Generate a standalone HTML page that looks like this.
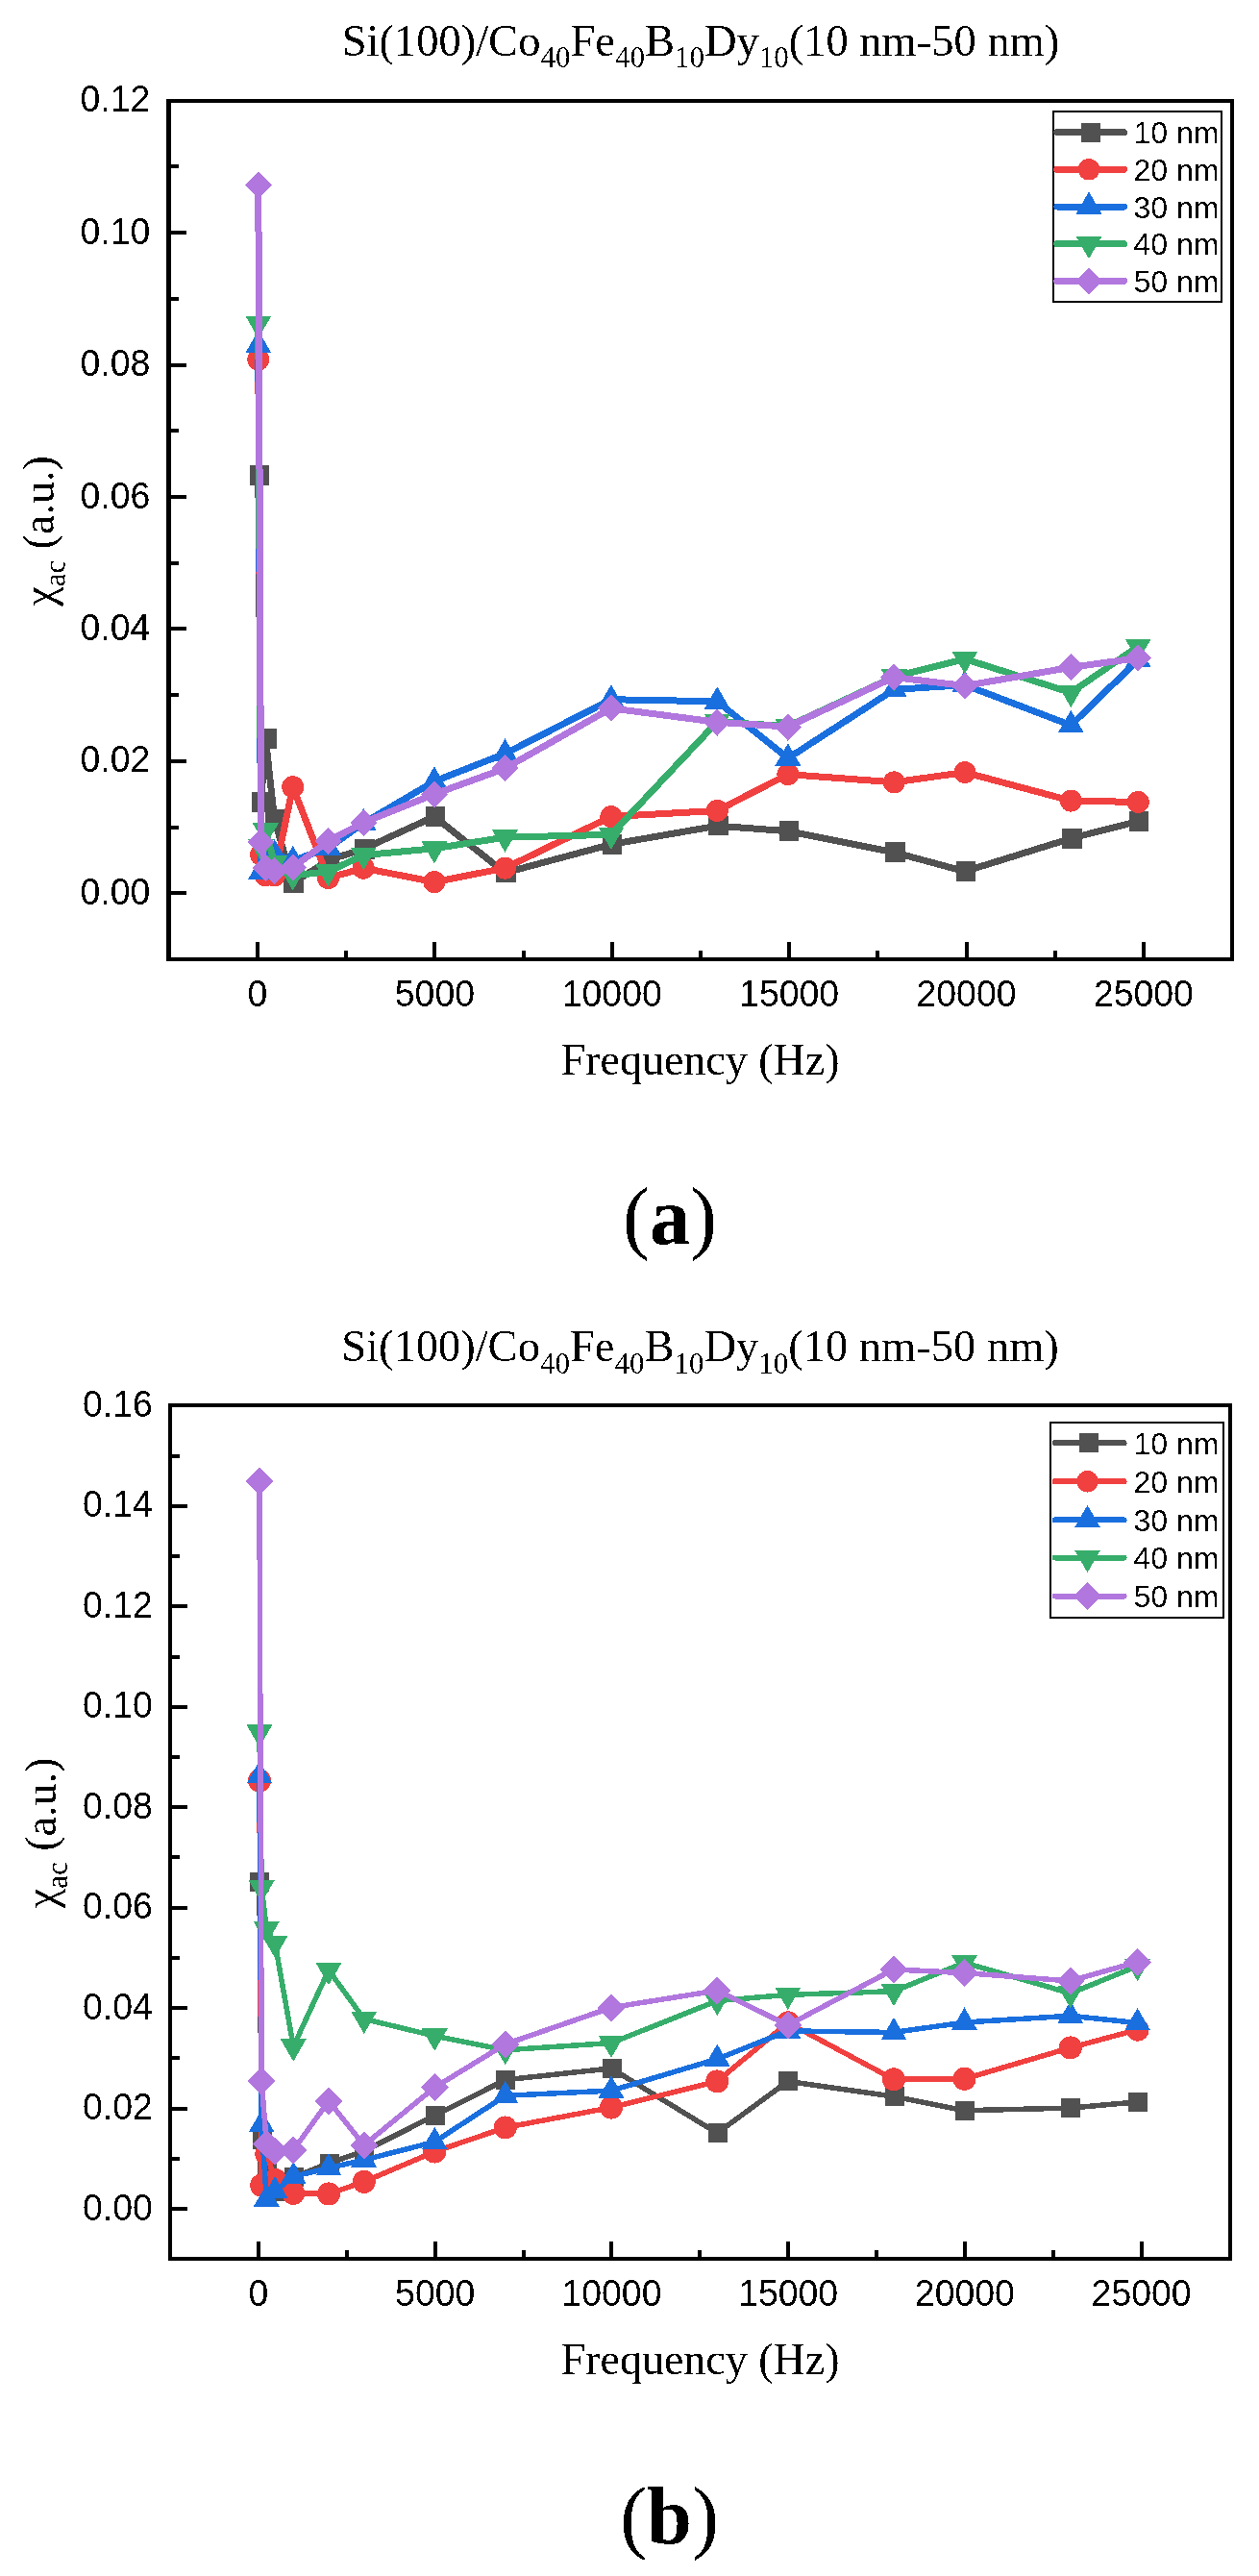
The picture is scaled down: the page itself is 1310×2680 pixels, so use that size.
<!DOCTYPE html><html><head><meta charset="utf-8"><style>html,body{margin:0;padding:0;background:#fff;}svg{display:block;will-change:transform;}</style></head><body>
<svg width="1310" height="2680" viewBox="0 0 1310 2680" shape-rendering="crispEdges">
<rect width="1310" height="2680" fill="#fff"/>
<defs><filter id="bin" x="0" y="0" width="1" height="1" color-interpolation-filters="sRGB"><feComponentTransfer><feFuncA type="discrete" tableValues="0 1"/></feComponentTransfer></filter></defs>
<g filter="url(#bin)">
<g fill="#000">
<rect x="173" y="103" width="5" height="897"/>
<rect x="173" y="103" width="1111" height="4"/>
<rect x="1280" y="103" width="4" height="897"/>
<rect x="173" y="996" width="1111" height="4"/>
<rect x="178" y="927.3" width="16" height="4"/>
<rect x="178" y="858.58" width="7.5" height="4"/>
<rect x="178" y="789.86" width="16" height="4"/>
<rect x="178" y="721.14" width="7.5" height="4"/>
<rect x="178" y="652.42" width="16" height="4"/>
<rect x="178" y="583.7" width="7.5" height="4"/>
<rect x="178" y="514.98" width="16" height="4"/>
<rect x="178" y="446.26" width="7.5" height="4"/>
<rect x="178" y="377.54" width="16" height="4"/>
<rect x="178" y="308.82" width="7.5" height="4"/>
<rect x="178" y="240.1" width="16" height="4"/>
<rect x="178" y="171.38" width="7.5" height="4"/>
<rect x="266" y="980" width="4" height="16"/>
<rect x="358.19" y="988.5" width="4" height="7.5"/>
<rect x="450.38" y="980" width="4" height="16"/>
<rect x="542.57" y="988.5" width="4" height="7.5"/>
<rect x="634.76" y="980" width="4" height="16"/>
<rect x="726.95" y="988.5" width="4" height="7.5"/>
<rect x="819.14" y="980" width="4" height="16"/>
<rect x="911.33" y="988.5" width="4" height="7.5"/>
<rect x="1003.52" y="980" width="4" height="16"/>
<rect x="1095.71" y="988.5" width="4" height="7.5"/>
<rect x="1187.9" y="980" width="4" height="16"/>
</g>
<g font-family='"Liberation Sans", sans-serif' font-size="39.4" fill="#000">
<text transform="translate(156.3,940.9) scale(0.95,1)" text-anchor="end">0.00</text>
<text transform="translate(156.3,803.46) scale(0.95,1)" text-anchor="end">0.02</text>
<text transform="translate(156.3,666.02) scale(0.95,1)" text-anchor="end">0.04</text>
<text transform="translate(156.3,528.58) scale(0.95,1)" text-anchor="end">0.06</text>
<text transform="translate(156.3,391.14) scale(0.95,1)" text-anchor="end">0.08</text>
<text transform="translate(156.3,253.7) scale(0.95,1)" text-anchor="end">0.10</text>
<text transform="translate(156.3,116.26) scale(0.95,1)" text-anchor="end">0.12</text>
<text transform="translate(268,1046.5) scale(0.95,1)" text-anchor="middle">0</text>
<text transform="translate(452.38,1046.5) scale(0.95,1)" text-anchor="middle">5000</text>
<text transform="translate(636.76,1046.5) scale(0.95,1)" text-anchor="middle">10000</text>
<text transform="translate(821.14,1046.5) scale(0.95,1)" text-anchor="middle">15000</text>
<text transform="translate(1005.52,1046.5) scale(0.95,1)" text-anchor="middle">20000</text>
<text transform="translate(1189.9,1046.5) scale(0.95,1)" text-anchor="middle">25000</text>
</g>
<polyline fill="none" stroke="#515151" stroke-width="7" stroke-linejoin="miter" stroke-miterlimit="2" points="268.82,494.3 271.58,834.47 276.36,768.5 285.56,852.33 304.7,918.99 341.5,894.94 378.3,883.26 451.9,849.58 525.5,908 635.9,878.45 746.3,859.21 819.9,864.7 930.3,886.69 1003.9,906.62 1114.3,872.26 1184.22,854.4"/>
<rect x="259.57" y="484.05" width="20.5" height="20.5" fill="#515151"/>
<rect x="262.33" y="824.22" width="20.5" height="20.5" fill="#515151"/>
<rect x="267.11" y="758.25" width="20.5" height="20.5" fill="#515151"/>
<rect x="276.31" y="842.08" width="20.5" height="20.5" fill="#515151"/>
<rect x="295.45" y="908.74" width="20.5" height="20.5" fill="#515151"/>
<rect x="332.25" y="884.69" width="20.5" height="20.5" fill="#515151"/>
<rect x="369.05" y="873.01" width="20.5" height="20.5" fill="#515151"/>
<rect x="442.65" y="839.33" width="20.5" height="20.5" fill="#515151"/>
<rect x="516.25" y="897.75" width="20.5" height="20.5" fill="#515151"/>
<rect x="626.65" y="868.2" width="20.5" height="20.5" fill="#515151"/>
<rect x="737.05" y="848.96" width="20.5" height="20.5" fill="#515151"/>
<rect x="810.65" y="854.45" width="20.5" height="20.5" fill="#515151"/>
<rect x="921.05" y="876.44" width="20.5" height="20.5" fill="#515151"/>
<rect x="994.65" y="896.37" width="20.5" height="20.5" fill="#515151"/>
<rect x="1105.05" y="862.01" width="20.5" height="20.5" fill="#515151"/>
<rect x="1174.97" y="844.15" width="20.5" height="20.5" fill="#515151"/>
<polyline fill="none" stroke="#F14040" stroke-width="7" stroke-linejoin="miter" stroke-miterlimit="2" points="268.82,374.04 271.58,889.44 276.36,910.75 285.56,910.75 304.7,818.66 341.5,913.49 378.3,903.19 451.9,917.62 525.5,903.19 635.9,849.58 746.3,843.4 819.9,805.6 930.3,813.85 1003.9,803.54 1114.3,833.09 1184.22,834.47"/>
<circle cx="268.82" cy="374.04" r="11.5" fill="#F14040"/>
<circle cx="271.58" cy="889.44" r="11.5" fill="#F14040"/>
<circle cx="276.36" cy="910.75" r="11.5" fill="#F14040"/>
<circle cx="285.56" cy="910.75" r="11.5" fill="#F14040"/>
<circle cx="304.7" cy="818.66" r="11.5" fill="#F14040"/>
<circle cx="341.5" cy="913.49" r="11.5" fill="#F14040"/>
<circle cx="378.3" cy="903.19" r="11.5" fill="#F14040"/>
<circle cx="451.9" cy="917.62" r="11.5" fill="#F14040"/>
<circle cx="525.5" cy="903.19" r="11.5" fill="#F14040"/>
<circle cx="635.9" cy="849.58" r="11.5" fill="#F14040"/>
<circle cx="746.3" cy="843.4" r="11.5" fill="#F14040"/>
<circle cx="819.9" cy="805.6" r="11.5" fill="#F14040"/>
<circle cx="930.3" cy="813.85" r="11.5" fill="#F14040"/>
<circle cx="1003.9" cy="803.54" r="11.5" fill="#F14040"/>
<circle cx="1114.3" cy="833.09" r="11.5" fill="#F14040"/>
<circle cx="1184.22" cy="834.47" r="11.5" fill="#F14040"/>
<polyline fill="none" stroke="#1A6FDF" stroke-width="7" stroke-linejoin="miter" stroke-miterlimit="2" points="268.82,359.39 271.58,907.09 276.36,898.84 285.56,888.53 304.7,895.4 341.5,882.35 378.3,856.23 451.9,812.94 525.5,784.08 635.9,727.73 746.3,729.79 819.9,788.89 930.3,717.42 1003.9,712.61 1114.3,754.53 1184.22,686.5"/>
<polygon points="268.82,343.79 282.32,367.19 255.32,367.19" fill="#1A6FDF"/>
<polygon points="271.58,891.49 285.08,914.89 258.08,914.89" fill="#1A6FDF"/>
<polygon points="276.36,883.24 289.86,906.64 262.86,906.64" fill="#1A6FDF"/>
<polygon points="285.56,872.93 299.06,896.33 272.06,896.33" fill="#1A6FDF"/>
<polygon points="304.7,879.8 318.2,903.2 291.2,903.2" fill="#1A6FDF"/>
<polygon points="341.5,866.75 355,890.15 328,890.15" fill="#1A6FDF"/>
<polygon points="378.3,840.63 391.8,864.03 364.8,864.03" fill="#1A6FDF"/>
<polygon points="451.9,797.34 465.4,820.74 438.4,820.74" fill="#1A6FDF"/>
<polygon points="525.5,768.48 539,791.88 512,791.88" fill="#1A6FDF"/>
<polygon points="635.9,712.13 649.4,735.53 622.4,735.53" fill="#1A6FDF"/>
<polygon points="746.3,714.19 759.8,737.59 732.8,737.59" fill="#1A6FDF"/>
<polygon points="819.9,773.29 833.4,796.69 806.4,796.69" fill="#1A6FDF"/>
<polygon points="930.3,701.82 943.8,725.22 916.8,725.22" fill="#1A6FDF"/>
<polygon points="1003.9,697.01 1017.4,720.41 990.4,720.41" fill="#1A6FDF"/>
<polygon points="1114.3,738.93 1127.8,762.33 1100.8,762.33" fill="#1A6FDF"/>
<polygon points="1184.22,670.9 1197.72,694.3 1170.72,694.3" fill="#1A6FDF"/>
<polyline fill="none" stroke="#37AD6B" stroke-width="7" stroke-linejoin="miter" stroke-miterlimit="2" points="268.82,336.47 271.58,880.73 276.36,864.24 285.56,897.91 304.7,910.97 341.5,906.85 378.3,889.67 451.9,882.79 525.5,871.11 635.9,868.36 746.3,750.85 819.9,755.66 930.3,704.12 1003.9,685.57 1114.3,720.61 1184.22,672.51"/>
<polygon points="255.32,328.67 282.32,328.67 268.82,352.07" fill="#37AD6B"/>
<polygon points="258.08,872.93 285.08,872.93 271.58,896.33" fill="#37AD6B"/>
<polygon points="262.86,856.44 289.86,856.44 276.36,879.84" fill="#37AD6B"/>
<polygon points="272.06,890.11 299.06,890.11 285.56,913.51" fill="#37AD6B"/>
<polygon points="291.2,903.17 318.2,903.17 304.7,926.57" fill="#37AD6B"/>
<polygon points="328,899.05 355,899.05 341.5,922.45" fill="#37AD6B"/>
<polygon points="364.8,881.87 391.8,881.87 378.3,905.27" fill="#37AD6B"/>
<polygon points="438.4,874.99 465.4,874.99 451.9,898.39" fill="#37AD6B"/>
<polygon points="512,863.31 539,863.31 525.5,886.71" fill="#37AD6B"/>
<polygon points="622.4,860.56 649.4,860.56 635.9,883.96" fill="#37AD6B"/>
<polygon points="732.8,743.05 759.8,743.05 746.3,766.45" fill="#37AD6B"/>
<polygon points="806.4,747.86 833.4,747.86 819.9,771.26" fill="#37AD6B"/>
<polygon points="916.8,696.32 943.8,696.32 930.3,719.72" fill="#37AD6B"/>
<polygon points="990.4,677.77 1017.4,677.77 1003.9,701.17" fill="#37AD6B"/>
<polygon points="1100.8,712.81 1127.8,712.81 1114.3,736.21" fill="#37AD6B"/>
<polygon points="1170.72,664.71 1197.72,664.71 1184.22,688.11" fill="#37AD6B"/>
<polyline fill="none" stroke="#B177DE" stroke-width="7" stroke-linejoin="miter" stroke-miterlimit="2" points="268.82,192.62 271.58,876.39 276.36,903.19 285.56,905.94 304.7,902.5 341.5,875.01 378.3,855.77 451.9,826.22 525.5,799.42 635.9,736.88 746.3,751.32 819.9,756.13 930.3,704.59 1003.9,713.52 1114.3,694.28 1184.22,684.66"/>
<polygon points="268.82,178.62 282.82,192.62 268.82,206.62 254.82,192.62" fill="#B177DE"/>
<polygon points="271.58,862.39 285.58,876.39 271.58,890.39 257.58,876.39" fill="#B177DE"/>
<polygon points="276.36,889.19 290.36,903.19 276.36,917.19 262.36,903.19" fill="#B177DE"/>
<polygon points="285.56,891.94 299.56,905.94 285.56,919.94 271.56,905.94" fill="#B177DE"/>
<polygon points="304.7,888.5 318.7,902.5 304.7,916.5 290.7,902.5" fill="#B177DE"/>
<polygon points="341.5,861.01 355.5,875.01 341.5,889.01 327.5,875.01" fill="#B177DE"/>
<polygon points="378.3,841.77 392.3,855.77 378.3,869.77 364.3,855.77" fill="#B177DE"/>
<polygon points="451.9,812.22 465.9,826.22 451.9,840.22 437.9,826.22" fill="#B177DE"/>
<polygon points="525.5,785.42 539.5,799.42 525.5,813.42 511.5,799.42" fill="#B177DE"/>
<polygon points="635.9,722.88 649.9,736.88 635.9,750.88 621.9,736.88" fill="#B177DE"/>
<polygon points="746.3,737.32 760.3,751.32 746.3,765.32 732.3,751.32" fill="#B177DE"/>
<polygon points="819.9,742.13 833.9,756.13 819.9,770.13 805.9,756.13" fill="#B177DE"/>
<polygon points="930.3,690.59 944.3,704.59 930.3,718.59 916.3,704.59" fill="#B177DE"/>
<polygon points="1003.9,699.52 1017.9,713.52 1003.9,727.52 989.9,713.52" fill="#B177DE"/>
<polygon points="1114.3,680.28 1128.3,694.28 1114.3,708.28 1100.3,694.28" fill="#B177DE"/>
<polygon points="1184.22,670.66 1198.22,684.66 1184.22,698.66 1170.22,684.66" fill="#B177DE"/>
<rect x="1096" y="116" width="175" height="198" fill="none" stroke="#000" stroke-width="2"/>
<line x1="1099.8" y1="137.5" x2="1169.5" y2="137.5" stroke="#515151" stroke-width="7" stroke-linecap="round"/>
<rect x="1124.5" y="127.5" width="20" height="20" fill="#515151"/>
<text x="1179.5" y="149.1" font-family='"Liberation Sans", sans-serif' font-size="32" fill="#000">10 nm</text>
<line x1="1099.8" y1="176.3" x2="1169.5" y2="176.3" stroke="#F14040" stroke-width="7" stroke-linecap="round"/>
<circle cx="1133" cy="176.3" r="11.25" fill="#F14040"/>
<text x="1179.5" y="187.9" font-family='"Liberation Sans", sans-serif' font-size="32" fill="#000">20 nm</text>
<line x1="1099.8" y1="215" x2="1169.5" y2="215" stroke="#1A6FDF" stroke-width="7" stroke-linecap="round"/>
<polygon points="1133,199.4 1146.5,222.8 1119.5,222.8" fill="#1A6FDF"/>
<text x="1179.5" y="226.6" font-family='"Liberation Sans", sans-serif' font-size="32" fill="#000">30 nm</text>
<line x1="1099.8" y1="253.7" x2="1169.5" y2="253.7" stroke="#37AD6B" stroke-width="7" stroke-linecap="round"/>
<polygon points="1119.5,245.9 1146.5,245.9 1133,269.3" fill="#37AD6B"/>
<text x="1179.5" y="265.3" font-family='"Liberation Sans", sans-serif' font-size="32" fill="#000">40 nm</text>
<line x1="1099.8" y1="292.2" x2="1169.5" y2="292.2" stroke="#B177DE" stroke-width="7" stroke-linecap="round"/>
<polygon points="1133,278.2 1147,292.2 1133,306.2 1119,292.2" fill="#B177DE"/>
<text x="1179.5" y="303.8" font-family='"Liberation Sans", sans-serif' font-size="32" fill="#000">50 nm</text>
<text x="729" y="57.5" font-family='"Liberation Serif", serif' font-size="46.5" fill="#000" text-anchor="middle"><tspan>Si(100)/Co</tspan><tspan font-size="31" dy="12.5">40</tspan><tspan dy="-12.5">Fe</tspan><tspan font-size="31" dy="12.5">40</tspan><tspan dy="-12.5">B</tspan><tspan font-size="31" dy="12.5">10</tspan><tspan dy="-12.5">Dy</tspan><tspan font-size="31" dy="12.5">10</tspan><tspan dy="-12.5">(10 nm-50 nm)</tspan></text>
<text x="728.6" y="1117.8" font-family='"Liberation Serif", serif' font-size="46" text-anchor="middle" fill="#000">Frequency (Hz)</text>
<text transform="translate(55.6,552.5) rotate(-90)" font-family='"Liberation Serif", serif' font-size="46" text-anchor="middle" fill="#000">χ<tspan font-size="31" dy="12">ac</tspan><tspan dy="-12"> (a.u.)</tspan></text>
<text x="697" y="1294" font-family='"Liberation Serif", serif' font-size="84" text-anchor="middle" fill="#000">(<tspan font-weight="bold">a</tspan>)</text>
<g fill="#000">
<rect x="175" y="1460" width="4" height="892"/>
<rect x="175" y="1460" width="1106.5" height="4"/>
<rect x="1278" y="1460" width="3.5" height="892"/>
<rect x="175" y="2348" width="1106.5" height="4"/>
<rect x="179" y="2296.1" width="16" height="4"/>
<rect x="179" y="2243.86" width="7.5" height="4"/>
<rect x="179" y="2191.63" width="16" height="4"/>
<rect x="179" y="2139.39" width="7.5" height="4"/>
<rect x="179" y="2087.16" width="16" height="4"/>
<rect x="179" y="2034.92" width="7.5" height="4"/>
<rect x="179" y="1982.69" width="16" height="4"/>
<rect x="179" y="1930.45" width="7.5" height="4"/>
<rect x="179" y="1878.22" width="16" height="4"/>
<rect x="179" y="1825.98" width="7.5" height="4"/>
<rect x="179" y="1773.75" width="16" height="4"/>
<rect x="179" y="1721.51" width="7.5" height="4"/>
<rect x="179" y="1669.28" width="16" height="4"/>
<rect x="179" y="1617.04" width="7.5" height="4"/>
<rect x="179" y="1564.81" width="16" height="4"/>
<rect x="179" y="1512.57" width="7.5" height="4"/>
<rect x="267" y="2332" width="4" height="16"/>
<rect x="358.86" y="2340.5" width="4" height="7.5"/>
<rect x="450.72" y="2332" width="4" height="16"/>
<rect x="542.58" y="2340.5" width="4" height="7.5"/>
<rect x="634.44" y="2332" width="4" height="16"/>
<rect x="726.3" y="2340.5" width="4" height="7.5"/>
<rect x="818.16" y="2332" width="4" height="16"/>
<rect x="910.02" y="2340.5" width="4" height="7.5"/>
<rect x="1001.88" y="2332" width="4" height="16"/>
<rect x="1093.74" y="2340.5" width="4" height="7.5"/>
<rect x="1185.6" y="2332" width="4" height="16"/>
</g>
<g font-family='"Liberation Sans", sans-serif' font-size="39.4" fill="#000">
<text transform="translate(158.9,2309.6) scale(0.95,1)" text-anchor="end">0.00</text>
<text transform="translate(158.9,2205.13) scale(0.95,1)" text-anchor="end">0.02</text>
<text transform="translate(158.9,2100.66) scale(0.95,1)" text-anchor="end">0.04</text>
<text transform="translate(158.9,1996.19) scale(0.95,1)" text-anchor="end">0.06</text>
<text transform="translate(158.9,1891.72) scale(0.95,1)" text-anchor="end">0.08</text>
<text transform="translate(158.9,1787.25) scale(0.95,1)" text-anchor="end">0.10</text>
<text transform="translate(158.9,1682.78) scale(0.95,1)" text-anchor="end">0.12</text>
<text transform="translate(158.9,1578.31) scale(0.95,1)" text-anchor="end">0.14</text>
<text transform="translate(158.9,1473.84) scale(0.95,1)" text-anchor="end">0.16</text>
<text transform="translate(269,2399.3) scale(0.95,1)" text-anchor="middle">0</text>
<text transform="translate(452.72,2399.3) scale(0.95,1)" text-anchor="middle">5000</text>
<text transform="translate(636.44,2399.3) scale(0.95,1)" text-anchor="middle">10000</text>
<text transform="translate(820.16,2399.3) scale(0.95,1)" text-anchor="middle">15000</text>
<text transform="translate(1003.88,2399.3) scale(0.95,1)" text-anchor="middle">20000</text>
<text transform="translate(1187.6,2399.3) scale(0.95,1)" text-anchor="middle">25000</text>
</g>
<polyline fill="none" stroke="#515151" stroke-width="5.5" stroke-linejoin="miter" stroke-miterlimit="2" points="269.97,1957.53 272.18,2226.02 277.32,2258.92 286.14,2280.34 305.25,2265.19 342,2250.57 378.75,2238.03 452.25,2200.94 525.75,2163.86 636,2151.84 746.25,2219.23 819.75,2165.42 930,2181.09 1003.5,2195.72 1113.75,2193.11 1183.57,2186.84"/>
<rect x="260.47" y="1947.53" width="20" height="20" fill="#515151"/>
<rect x="262.68" y="2216.02" width="20" height="20" fill="#515151"/>
<rect x="267.82" y="2248.92" width="20" height="20" fill="#515151"/>
<rect x="276.64" y="2270.34" width="20" height="20" fill="#515151"/>
<rect x="295.75" y="2255.19" width="20" height="20" fill="#515151"/>
<rect x="332.5" y="2240.57" width="20" height="20" fill="#515151"/>
<rect x="369.25" y="2228.03" width="20" height="20" fill="#515151"/>
<rect x="442.75" y="2190.94" width="20" height="20" fill="#515151"/>
<rect x="516.25" y="2153.86" width="20" height="20" fill="#515151"/>
<rect x="626.5" y="2141.84" width="20" height="20" fill="#515151"/>
<rect x="736.75" y="2209.23" width="20" height="20" fill="#515151"/>
<rect x="810.25" y="2155.42" width="20" height="20" fill="#515151"/>
<rect x="920.5" y="2171.09" width="20" height="20" fill="#515151"/>
<rect x="994" y="2185.72" width="20" height="20" fill="#515151"/>
<rect x="1104.25" y="2183.11" width="20" height="20" fill="#515151"/>
<rect x="1174.07" y="2176.84" width="20" height="20" fill="#515151"/>
<polyline fill="none" stroke="#F14040" stroke-width="5.5" stroke-linejoin="miter" stroke-miterlimit="2" points="269.97,1852.54 272.18,2273.55 277.32,2241.16 286.14,2267.8 305.25,2281.91 342,2282.43 378.75,2269.89 452.25,2238.55 525.75,2213.48 636,2192.59 746.25,2165.42 819.75,2104.31 930,2163.33 1003.5,2162.81 1113.75,2130.43 1183.57,2111.62"/>
<circle cx="269.97" cy="1852.54" r="12" fill="#F14040"/>
<circle cx="272.18" cy="2273.55" r="12" fill="#F14040"/>
<circle cx="277.32" cy="2241.16" r="12" fill="#F14040"/>
<circle cx="286.14" cy="2267.8" r="12" fill="#F14040"/>
<circle cx="305.25" cy="2281.91" r="12" fill="#F14040"/>
<circle cx="342" cy="2282.43" r="12" fill="#F14040"/>
<circle cx="378.75" cy="2269.89" r="12" fill="#F14040"/>
<circle cx="452.25" cy="2238.55" r="12" fill="#F14040"/>
<circle cx="525.75" cy="2213.48" r="12" fill="#F14040"/>
<circle cx="636" cy="2192.59" r="12" fill="#F14040"/>
<circle cx="746.25" cy="2165.42" r="12" fill="#F14040"/>
<circle cx="819.75" cy="2104.31" r="12" fill="#F14040"/>
<circle cx="930" cy="2163.33" r="12" fill="#F14040"/>
<circle cx="1003.5" cy="2162.81" r="12" fill="#F14040"/>
<circle cx="1113.75" cy="2130.43" r="12" fill="#F14040"/>
<circle cx="1183.57" cy="2111.62" r="12" fill="#F14040"/>
<polyline fill="none" stroke="#1A6FDF" stroke-width="5.5" stroke-linejoin="miter" stroke-miterlimit="2" points="269.97,1847.56 272.18,2210.59 277.32,2287.9 286.14,2279.54 305.25,2264.39 342,2255.51 378.75,2247.15 452.25,2228.35 525.75,2180.29 636,2175.07 746.25,2142.16 819.75,2112.91 930,2114.48 1003.5,2104.03 1113.75,2097.24 1183.57,2104.55"/>
<polygon points="269.97,1831.96 283.47,1855.36 256.47,1855.36" fill="#1A6FDF"/>
<polygon points="272.18,2194.99 285.68,2218.39 258.68,2218.39" fill="#1A6FDF"/>
<polygon points="277.32,2272.3 290.82,2295.7 263.82,2295.7" fill="#1A6FDF"/>
<polygon points="286.14,2263.94 299.64,2287.34 272.64,2287.34" fill="#1A6FDF"/>
<polygon points="305.25,2248.79 318.75,2272.19 291.75,2272.19" fill="#1A6FDF"/>
<polygon points="342,2239.91 355.5,2263.31 328.5,2263.31" fill="#1A6FDF"/>
<polygon points="378.75,2231.55 392.25,2254.95 365.25,2254.95" fill="#1A6FDF"/>
<polygon points="452.25,2212.75 465.75,2236.15 438.75,2236.15" fill="#1A6FDF"/>
<polygon points="525.75,2164.69 539.25,2188.09 512.25,2188.09" fill="#1A6FDF"/>
<polygon points="636,2159.47 649.5,2182.87 622.5,2182.87" fill="#1A6FDF"/>
<polygon points="746.25,2126.56 759.75,2149.96 732.75,2149.96" fill="#1A6FDF"/>
<polygon points="819.75,2097.31 833.25,2120.71 806.25,2120.71" fill="#1A6FDF"/>
<polygon points="930,2098.88 943.5,2122.28 916.5,2122.28" fill="#1A6FDF"/>
<polygon points="1003.5,2088.43 1017,2111.83 990,2111.83" fill="#1A6FDF"/>
<polygon points="1113.75,2081.64 1127.25,2105.04 1100.25,2105.04" fill="#1A6FDF"/>
<polygon points="1183.57,2088.95 1197.07,2112.35 1170.07,2112.35" fill="#1A6FDF"/>
<polyline fill="none" stroke="#37AD6B" stroke-width="5.5" stroke-linejoin="miter" stroke-miterlimit="2" points="269.97,1802.15 272.18,1964.07 277.32,2006.91 286.14,2021.53 305.25,2129.14 342,2049.74 378.75,2100.41 452.25,2118.17 525.75,2132.79 636,2125.48 746.25,2081.6 819.75,2075.34 930,2071.68 1003.5,2041.9 1113.75,2073.77 1183.57,2045.56"/>
<polygon points="256.47,1794.35 283.47,1794.35 269.97,1817.75" fill="#37AD6B"/>
<polygon points="258.68,1956.27 285.68,1956.27 272.18,1979.67" fill="#37AD6B"/>
<polygon points="263.82,1999.11 290.82,1999.11 277.32,2022.51" fill="#37AD6B"/>
<polygon points="272.64,2013.73 299.64,2013.73 286.14,2037.13" fill="#37AD6B"/>
<polygon points="291.75,2121.34 318.75,2121.34 305.25,2144.74" fill="#37AD6B"/>
<polygon points="328.5,2041.94 355.5,2041.94 342,2065.34" fill="#37AD6B"/>
<polygon points="365.25,2092.61 392.25,2092.61 378.75,2116.01" fill="#37AD6B"/>
<polygon points="438.75,2110.37 465.75,2110.37 452.25,2133.77" fill="#37AD6B"/>
<polygon points="512.25,2124.99 539.25,2124.99 525.75,2148.39" fill="#37AD6B"/>
<polygon points="622.5,2117.68 649.5,2117.68 636,2141.08" fill="#37AD6B"/>
<polygon points="732.75,2073.8 759.75,2073.8 746.25,2097.2" fill="#37AD6B"/>
<polygon points="806.25,2067.54 833.25,2067.54 819.75,2090.94" fill="#37AD6B"/>
<polygon points="916.5,2063.88 943.5,2063.88 930,2087.28" fill="#37AD6B"/>
<polygon points="990,2034.1 1017,2034.1 1003.5,2057.5" fill="#37AD6B"/>
<polygon points="1100.25,2065.97 1127.25,2065.97 1113.75,2089.37" fill="#37AD6B"/>
<polygon points="1170.07,2037.76 1197.07,2037.76 1183.57,2061.16" fill="#37AD6B"/>
<polyline fill="none" stroke="#B177DE" stroke-width="5.5" stroke-linejoin="miter" stroke-miterlimit="2" points="269.97,1540.69 272.18,2164.9 277.32,2230.19 286.14,2238.03 305.25,2236.99 342,2185.79 378.75,2231.76 452.25,2171.69 525.75,2126.77 636,2088.64 746.25,2070.88 819.75,2106.92 930,2048.94 1003.5,2052.6 1113.75,2060.95 1183.57,2041.1"/>
<polygon points="269.97,1526.19 284.47,1540.69 269.97,1555.19 255.47,1540.69" fill="#B177DE"/>
<polygon points="272.18,2150.4 286.68,2164.9 272.18,2179.4 257.68,2164.9" fill="#B177DE"/>
<polygon points="277.32,2215.69 291.82,2230.19 277.32,2244.69 262.82,2230.19" fill="#B177DE"/>
<polygon points="286.14,2223.53 300.64,2238.03 286.14,2252.53 271.64,2238.03" fill="#B177DE"/>
<polygon points="305.25,2222.49 319.75,2236.99 305.25,2251.49 290.75,2236.99" fill="#B177DE"/>
<polygon points="342,2171.29 356.5,2185.79 342,2200.29 327.5,2185.79" fill="#B177DE"/>
<polygon points="378.75,2217.26 393.25,2231.76 378.75,2246.26 364.25,2231.76" fill="#B177DE"/>
<polygon points="452.25,2157.19 466.75,2171.69 452.25,2186.19 437.75,2171.69" fill="#B177DE"/>
<polygon points="525.75,2112.27 540.25,2126.77 525.75,2141.27 511.25,2126.77" fill="#B177DE"/>
<polygon points="636,2074.14 650.5,2088.64 636,2103.14 621.5,2088.64" fill="#B177DE"/>
<polygon points="746.25,2056.38 760.75,2070.88 746.25,2085.38 731.75,2070.88" fill="#B177DE"/>
<polygon points="819.75,2092.42 834.25,2106.92 819.75,2121.42 805.25,2106.92" fill="#B177DE"/>
<polygon points="930,2034.44 944.5,2048.94 930,2063.44 915.5,2048.94" fill="#B177DE"/>
<polygon points="1003.5,2038.1 1018,2052.6 1003.5,2067.1 989,2052.6" fill="#B177DE"/>
<polygon points="1113.75,2046.45 1128.25,2060.95 1113.75,2075.45 1099.25,2060.95" fill="#B177DE"/>
<polygon points="1183.57,2026.6 1198.07,2041.1 1183.57,2055.6 1169.07,2041.1" fill="#B177DE"/>
<rect x="1093" y="1480" width="180" height="203" fill="none" stroke="#000" stroke-width="2"/>
<line x1="1097.7" y1="1501.2" x2="1169.6" y2="1501.2" stroke="#515151" stroke-width="6" stroke-linecap="round"/>
<rect x="1123" y="1491.2" width="20" height="20" fill="#515151"/>
<text x="1179.5" y="1513" font-family='"Liberation Sans", sans-serif' font-size="32" fill="#000">10 nm</text>
<line x1="1097.7" y1="1541.3" x2="1169.6" y2="1541.3" stroke="#F14040" stroke-width="6" stroke-linecap="round"/>
<circle cx="1131.5" cy="1541.3" r="11.25" fill="#F14040"/>
<text x="1179.5" y="1553.1" font-family='"Liberation Sans", sans-serif' font-size="32" fill="#000">20 nm</text>
<line x1="1097.7" y1="1581.4" x2="1169.6" y2="1581.4" stroke="#1A6FDF" stroke-width="6" stroke-linecap="round"/>
<polygon points="1131.5,1565.8 1145,1589.2 1118,1589.2" fill="#1A6FDF"/>
<text x="1179.5" y="1593.2" font-family='"Liberation Sans", sans-serif' font-size="32" fill="#000">30 nm</text>
<line x1="1097.7" y1="1620.5" x2="1169.6" y2="1620.5" stroke="#37AD6B" stroke-width="6" stroke-linecap="round"/>
<polygon points="1118,1612.7 1145,1612.7 1131.5,1636.1" fill="#37AD6B"/>
<text x="1179.5" y="1632.3" font-family='"Liberation Sans", sans-serif' font-size="32" fill="#000">40 nm</text>
<line x1="1097.7" y1="1660.5" x2="1169.6" y2="1660.5" stroke="#B177DE" stroke-width="6" stroke-linecap="round"/>
<polygon points="1131.5,1646.3 1145.5,1660.5 1131.5,1674.7 1117.5,1660.5" fill="#B177DE"/>
<text x="1179.5" y="1672.3" font-family='"Liberation Sans", sans-serif' font-size="32" fill="#000">50 nm</text>
<text x="728.5" y="1416" font-family='"Liberation Serif", serif' font-size="46.5" fill="#000" text-anchor="middle"><tspan>Si(100)/Co</tspan><tspan font-size="31" dy="12.5">40</tspan><tspan dy="-12.5">Fe</tspan><tspan font-size="31" dy="12.5">40</tspan><tspan dy="-12.5">B</tspan><tspan font-size="31" dy="12.5">10</tspan><tspan dy="-12.5">Dy</tspan><tspan font-size="31" dy="12.5">10</tspan><tspan dy="-12.5">(10 nm-50 nm)</tspan></text>
<text x="728.6" y="2469.6" font-family='"Liberation Serif", serif' font-size="46" text-anchor="middle" fill="#000">Frequency (Hz)</text>
<text transform="translate(57.9,1906.9) rotate(-90)" font-family='"Liberation Serif", serif' font-size="46" text-anchor="middle" fill="#000">χ<tspan font-size="31" dy="12">ac</tspan><tspan dy="-12"> (a.u.)</tspan></text>
<text x="696.6" y="2646.4" font-family='"Liberation Serif", serif' font-size="84" text-anchor="middle" fill="#000">(<tspan font-weight="bold">b</tspan>)</text>
</g>
</svg></body></html>
